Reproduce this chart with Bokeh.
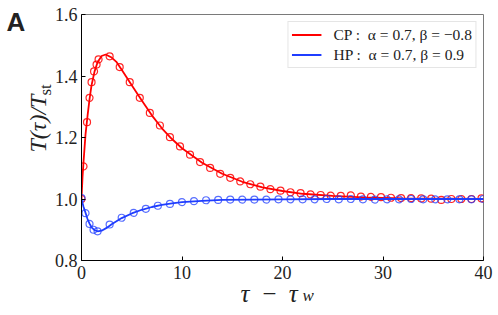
import math
from bokeh.plotting import figure
from bokeh.models import Range1d, FixedTicker, Label, Legend, LegendItem, NumeralTickFormatter
from bokeh.embed import file_html
from bokeh.resources import INLINE

# ---------------- data ----------------
cp_t = [0.0, 0.2, 0.55, 0.8, 1.0, 1.25, 1.5, 1.7, 2.8, 3.8, 4.8, 5.8, 6.8, 7.8, 8.8,
        9.8, 10.8, 11.8, 12.8, 13.8, 14.8, 15.8, 16.8, 17.8, 18.8, 19.8, 20.8,
        21.8, 22.8, 23.8, 24.8, 25.8, 26.8, 27.8, 28.8, 29.8, 30.8, 31.8, 32.8,
        33.8, 34.8, 35.8, 36.8, 37.8, 38.8, 39.8]
cp_v = [1.0, 1.106, 1.25, 1.329, 1.38, 1.415, 1.437, 1.454, 1.464, 1.429, 1.38, 1.329,
        1.28, 1.239, 1.201, 1.171, 1.144, 1.12, 1.101, 1.082, 1.069, 1.057, 1.048,
        1.040, 1.032, 1.027, 1.022, 1.019, 1.015, 1.013, 1.011, 1.010, 1.012, 1.008,
        1.007, 1.006, 1.004, 1.003, 1.003, 1.002, 1.001, 0.997, 1.000, 1.000, 1.000,
        1.002]
cp_line_t = [0.0, 0.1, 0.2, 0.4, 0.6, 0.8, 1.0, 1.3, 1.6, 2.0, 2.4, 3.0, 3.5, 4.0, 5.0,
             6.0, 7.0, 8.0, 9.0, 10.0, 12.0, 14.0, 16.0, 18.0, 20.0, 22.0, 25.0, 28.0,
             32.0, 36.0, 40.0]
cp_line_v = [1.0, 1.07, 1.12, 1.21, 1.27, 1.325, 1.37, 1.415, 1.445, 1.465, 1.47, 1.46,
             1.445, 1.42, 1.37, 1.32, 1.272, 1.23, 1.195, 1.165, 1.118, 1.082, 1.056,
             1.038, 1.026, 1.017, 1.010, 1.005, 1.002, 1.001, 1.0]

hp_t = [0.0, 0.4, 0.8, 1.2, 1.6, 2.8, 4.0, 5.2, 6.4, 7.6, 8.8, 10.0, 11.2, 12.4, 13.6,
        14.8, 16.0, 17.2, 18.4, 19.6, 20.8, 22.0, 23.2, 24.4, 25.6, 26.8, 28.0, 29.2,
        30.4, 31.6, 32.8, 34.0, 35.2, 36.4, 37.6, 38.8, 40.0]
hp_v = [1.003, 0.954, 0.919, 0.900, 0.895, 0.917, 0.939, 0.955, 0.968, 0.978, 0.984,
        0.990, 0.993, 0.996, 0.997, 0.998, 0.998, 0.998, 0.998, 0.999, 0.999, 0.999,
        0.999, 1.000, 0.999, 1.000, 0.999, 0.998, 0.999, 0.999, 1.000, 0.999, 0.999,
        0.999, 0.999, 0.999, 1.000]
hp_line_t = [0.0, 0.2, 0.4, 0.6, 0.8, 1.0, 1.3, 1.6, 2.0, 2.5, 3.0, 4.0, 5.0, 6.0, 7.0,
             8.0, 9.0, 10.0, 12.0, 14.0, 17.0, 20.0, 25.0, 30.0, 40.0]
hp_line_v = [1.0, 0.975, 0.955, 0.935, 0.92, 0.908, 0.899, 0.895, 0.897, 0.906, 0.918,
             0.938, 0.953, 0.965, 0.974, 0.981, 0.986, 0.990, 0.994, 0.997, 0.998,
             0.999, 1.0, 1.0, 1.0]

x_ticks = [0, 10, 20, 30, 40]
y_ticks = [0.8, 1.0, 1.2, 1.4, 1.6]
cp_label = "CP :  α = 0.7, β = −0.8"
hp_label = "HP :  α = 0.7, β = 0.9"

RED = "#ff0000"
BLUE = "#1f3dff"
SERIF = "Liberation Serif"

# ---------------- figure ----------------
p = figure(width=498, height=315, output_backend="svg", toolbar_location=None,
           x_range=Range1d(0, 40), y_range=Range1d(0.8, 1.6),
           min_border_left=81, min_border_right=15, min_border_top=14, min_border_bottom=55)
p.background_fill_color = "white"
p.border_fill_color = "white"
p.outline_line_color = "#7a7a7a"
p.outline_line_width = 1
p.xgrid.visible = False
p.ygrid.visible = False

for ax, ticks in ((p.xaxis, x_ticks), (p.yaxis, y_ticks)):
    ax.ticker = FixedTicker(ticks=ticks)
    ax.minor_tick_line_color = None
    ax.major_tick_in = 4
    ax.major_tick_out = 0
    ax.axis_line_color = "black"
    ax.major_tick_line_color = "black"
    ax.major_label_text_font = SERIF
    ax.major_label_text_font_size = "18px"
    ax.major_label_text_color = "#222222"
p.xaxis.major_label_standoff = 5
p.yaxis.major_label_standoff = 4
p.yaxis.formatter = NumeralTickFormatter(format="0.0")

r_cp = p.line(cp_line_t, cp_line_v, line_color=RED, line_width=1.8)
p.scatter(cp_t, cp_v, marker="circle", size=7, fill_color=None, line_color=RED,
          line_width=1.2, line_alpha=0.85)
r_hp = p.line(hp_line_t, hp_line_v, line_color=BLUE, line_width=1.8)
p.scatter(hp_t, hp_v, marker="circle", size=7, fill_color=None, line_color=BLUE,
          line_width=1.2, line_alpha=0.75)

legend = Legend(items=[LegendItem(label=cp_label, renderers=[r_cp]),
                       LegendItem(label=hp_label, renderers=[r_hp])],
                location="top_right", margin=7, padding=3, spacing=1,
                glyph_width=30, glyph_height=19, label_height=19, label_standoff=12,
                label_text_font=SERIF, label_text_font_size="15.5px",
                label_text_color="#222222",
                border_line_color="#cccccc", border_line_width=1,
                background_fill_alpha=0.85)
p.add_layout(legend)

# axis titles built from text pieces (math-style), placed in canvas pixels;
# each piece sits in a side panel that has room for it
def cl(**kw):
    return Label(x_units="canvas", y_units="canvas", text_color="#222222",
                 text_baseline="alphabetic", **kw)

p.add_layout(cl(x=240, y=293, text="τ \u2009−\u2009 τ", text_font=SERIF,
                text_font_style="italic", text_font_size="25px"), "below")
p.add_layout(cl(x=302, y=295, text="w", text_font=SERIF,
                text_font_style="italic", text_font_size="17px"), "right")
p.add_layout(cl(x=37, y=152, text="T(τ)/T", text_font=SERIF,
                text_font_style="italic", text_font_size="24px", angle=math.pi / 2), "left")
p.add_layout(cl(x=45, y=95, text="st", text_font=SERIF,
                text_font_size="17px", angle=math.pi / 2), "above")
p.add_layout(cl(x=6, y=21, text="A", text_font="Liberation Sans",
                text_font_style="bold", text_font_size="26px"), "left")

open("out.html", "w").write(file_html(p, INLINE))
